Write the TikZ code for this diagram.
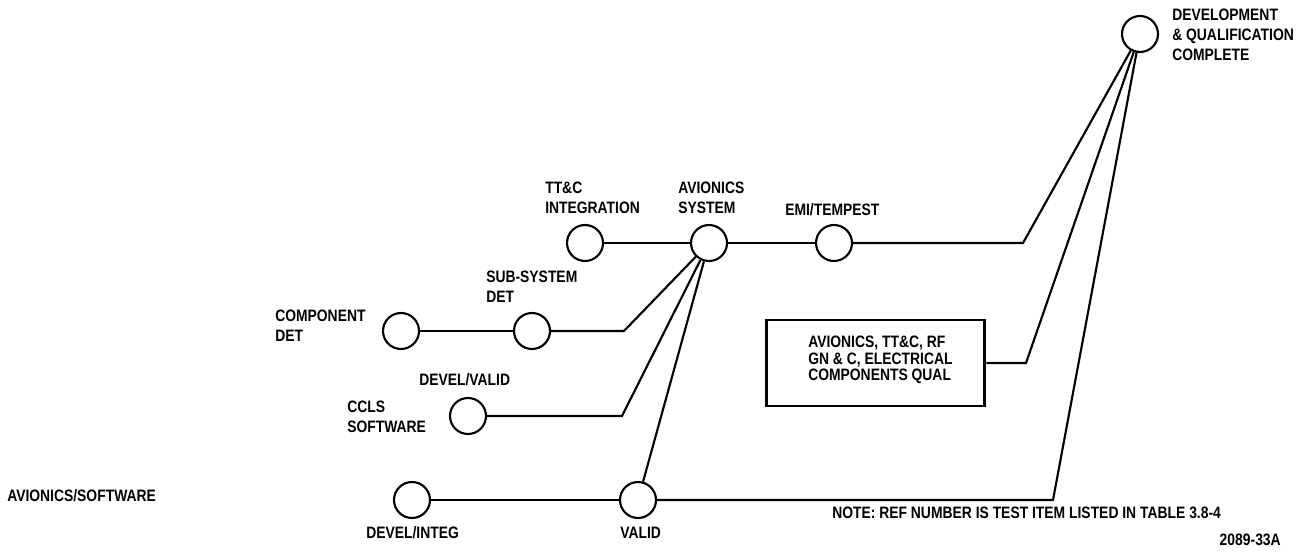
\documentclass[tikz,border=0pt]{standalone}
\usepackage{fontspec}
\setmainfont{Liberation Sans}[FakeStretch=0.84]
\begin{document}
\begin{tikzpicture}[x=0.75pt,y=-0.75pt,
  evt/.style={draw,circle,line width=1.6pt,minimum size=27pt,inner sep=0pt},
  conn/.style={line width=1.6pt},
  lbl/.style={font=\fontsize{12.4}{15}\selectfont\bfseries,align=left,anchor=west,inner sep=0pt},
  boxtx/.style={font=\fontsize{12.4}{12.4}\selectfont\bfseries,align=left,anchor=west,inner sep=0pt},
  qbox/.style={draw,line width=2.2pt,minimum width=164pt,minimum height=64.5pt,inner sep=0pt}]
\useasboundingbox (0,0) rectangle (1307,552);
% events
\node[evt] (dq) at (1140,34) {};
\node[evt] (ttc) at (585,243) {};
\node[evt] (avi) at (709,243) {};
\node[evt] (emi) at (834,243) {};
\node[evt] (comp) at (401,331) {};
\node[evt] (sub) at (532,331) {};
\node[evt] (ccls) at (468,416) {};
\node[evt] (devint) at (412,500) {};
\node[evt] (valid) at (638,500) {};
\node[qbox] (box) at (875.5,363) {};
% labels
\node[lbl] (ldq) at (1172,35) {DEVELOPMENT\\\& QUALIFICATION\\COMPLETE};
\node[lbl] (lttc) at (545,198) {TT\&C\\INTEGRATION};
\node[lbl] (lavi) at (678,198) {AVIONICS\\SYSTEM};
\node[lbl] (lemi) at (785,210) {EMI/TEMPEST};
\node[lbl] (lsub) at (486,287) {SUB-SYSTEM\\DET};
\node[lbl] (lcomp) at (275,326) {COMPONENT\\DET};
\node[lbl] (ldv) at (419,380) {DEVEL/VALID};
\node[lbl] (lccls) at (347,417) {CCLS\\SOFTWARE};
\node[lbl] (lavsw) at (7,496) {AVIONICS/SOFTWARE};
\node[lbl] (ldevint) at (366,533) {DEVEL/INTEG};
\node[lbl] (lvalid) at (620,533) {VALID};
\node[boxtx] (lbox) at (808,360) {AVIONICS, TT\&C, RF\\GN \& C, ELECTRICAL\\COMPONENTS QUAL};
\node[lbl] (lnote) at (832,513) {NOTE: REF NUMBER IS TEST ITEM LISTED IN TABLE 3.8-4};
\node[lbl,anchor=east] (lid) at (1281,540) {2089-33A};
% elbows
\coordinate (e1) at (1023,243);
\coordinate (e2) at (624,331);
\coordinate (e3) at (622,416);
\coordinate (e4) at (1053,500);
\coordinate (e5) at (1026,363);
% connectors
\draw[conn] (ttc) -- (avi);
\draw[conn] (avi) -- (emi);
\draw[conn] (emi) -- (e1) -- (dq);
\draw[conn] (comp) -- (sub);
\draw[conn] (sub) -- (e2) -- (avi);
\draw[conn] (ccls) -- (e3) -- (avi);
\draw[conn] (devint) -- (valid);
\draw[conn] (valid) -- (avi);
\draw[conn] (valid) -- (e4) -- (dq);
\draw[conn] (box) -- (e5) -- (dq);
\end{tikzpicture}
\end{document}
